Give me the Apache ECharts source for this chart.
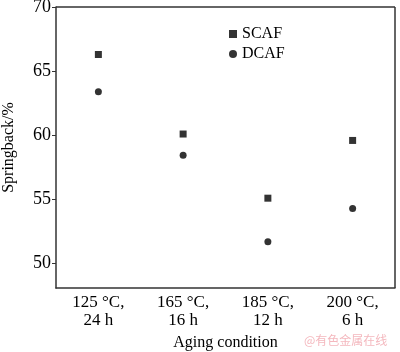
<!DOCTYPE html>
<html>
<head>
<meta charset="utf-8">
<script src="https://cdn.jsdelivr.net/npm/echarts@6/dist/echarts.min.js"></script>
<style>
  html, body { margin: 0; padding: 0; background: #fff; }
  #chart { width: 400px; height: 352px; }
</style>
</head>
<body>
<div id="chart"></div>
<script>
  const categories = ['125 °C,\n24 h', '165 °C,\n16 h', '185 °C,\n12 h', '200 °C,\n6 h'];
  const scaf = [66.3, 60.1, 55.1, 59.6];
  const dcaf = [63.4, 58.45, 51.7, 54.3];
  const yTicks = [50, 55, 60, 65, 70];

  const font = 'Liberation Serif';
  const chart = echarts.init(document.getElementById('chart'));
  const option = {
    animation: false,
    textStyle: { fontFamily: font },
    grid: { left: 56, top: 7, right: 5, bottom: 64, outerBoundsMode: 'none', containLabel: false },
    legend: {
      left: 224, top: 21, orient: 'vertical', itemGap: 4,
      itemWidth: 8, itemHeight: 8,
      textStyle: { fontFamily: font, fontSize: 16, color: '#000' },
      data: [{ name: 'SCAF', icon: 'rect' }, { name: 'DCAF', icon: 'circle' }]
    },
    xAxis: {
      type: 'category',
      data: categories,
      name: 'Aging condition',
      nameLocation: 'middle',
      nameGap: 47,
      nameTextStyle: { fontFamily: font, fontSize: 16, color: '#000' },
      axisLine: { lineStyle: { color: '#333', width: 1.5 } },
      axisTick: { alignWithLabel: true, inside: true, length: 4, lineStyle: { color: '#333' } },
      axisLabel: { fontFamily: font, fontSize: 17, color: '#000', lineHeight: 18, margin: 6 },
      splitLine: { show: false }
    },
    yAxis: {
      type: 'value',
      min: 48.1, max: 70,
      name: 'Springback/%',
      nameLocation: 'middle',
      nameGap: 39,
      nameTextStyle: { fontFamily: font, fontSize: 16, color: '#000' },
      axisLine: { show: true, lineStyle: { color: '#333', width: 1.5 } },
      axisTick: { show: true, length: 4, lineStyle: { color: '#333' }, customValues: yTicks },
      axisLabel: { fontFamily: font, fontSize: 18, color: '#000', margin: 5, customValues: yTicks },
      splitLine: { show: false }
    },
    series: [
      { name: 'SCAF', type: 'scatter', symbol: 'rect', symbolSize: 7, itemStyle: { color: '#000' }, data: scaf },
      { name: 'DCAF', type: 'scatter', symbol: 'circle', symbolSize: 7, itemStyle: { color: '#000' }, data: dcaf },
      { type: 'line', data: [], markLine: {
        silent: true, symbol: 'none', label: { show: false },
        lineStyle: { color: '#333', width: 1.5, type: 'solid' },
        data: [{ yAxis: 70 }]
      } }
    ],
    graphic: [
      { type: 'line', shape: { x1: 395, y1: 7, x2: 395, y2: 288 }, style: { stroke: '#333', lineWidth: 1.5 } },
      { type: 'text', left: 304, top: 334, style: { text: '@有色金属在线', fill: '#f4b8be', font: '12px "Noto Sans CJK SC"' } }
    ]
  };
  chart.setOption(option);
</script>
</body>
</html>
